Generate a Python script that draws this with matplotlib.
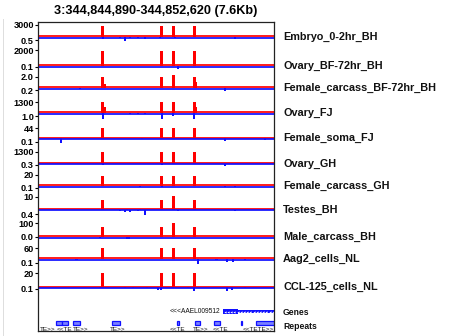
import matplotlib
matplotlib.use("Agg")
import numpy as np
import matplotlib.pyplot as plt
import matplotlib.transforms as mtransforms
from matplotlib.patches import Rectangle

plt.rcParams['font.family'] = ['Liberation Sans', 'DejaVu Sans']

# ---------------- data ----------------
region_start = 344844890
region_end = 344852620
title = "3:344,844,890-344,852,620 (7.6Kb)"

track_names = ["Embryo_0-2hr_BH", "Ovary_BF-72hr_BH", "Female_carcass_BF-72hr_BH",
               "Ovary_FJ", "Female_soma_FJ", "Ovary_GH", "Female_carcass_GH",
               "Testes_BH", "Male_carcass_BH", "Aag2_cells_NL", "CCL-125_cells_NL"]
top_labels = ["3000", "2000", "2.0", "1300", "44", "1300", "20", "10", "100", "60", "20"]
bottom_labels = ["0.5", "0.1", "0.2", "1.0", "0.1", "0.3", "0.1", "0.4", "0.0", "0.1", "0.1"]
top_values = [3000, 2000, 2.0, 1300, 44, 1300, 20, 10, 100, 60, 20]

peak_pos = [344847009, 344848941, 344849321, 344850009]
peak_vals = [
    [2750, 2750, 2750, 2750],
    [1920, 1920, 1920, 1920],
    [2.0, 1.95, 2.35, 2.0],
    [1300, 1300, 1300, 1300],
    [46, 46, 46, 46],
    [1300, 1300, 1330, 1300],
    [18, 18, 18, 18],
    [7.7, 7.7, 10.8, 7.7],
    [70, 70, 104, 70],
    [60, 60, 60, 60],
    [20, 20, 20.5, 20],
]
shoulder_pos = [[], [], [344847080, 344850080], [344847080, 344850080], [], [], [],
                [344847805, 344848230], [], [], []]
shoulder_vals = [[], [], [0.7, 1.1], [700, 700], [], [], [], [0.4, 0.4], [], [], []]

dip_pos = [
    [344847019, 344847576, 344847739, 344847903, 344848165, 344848394, 344848886, 344849377, 344851342],
    [344849475],
    [344851014, 344846266],
    [344847019, 344848951, 344849311, 344849999, 344847903, 344848165, 344848394],
    [344845643, 344848296, 344851014, 344852324],
    [344847019, 344848951, 344847576, 344848001, 344848394, 344851014, 344851244],
    [344848230, 344851014, 344851342, 344848951],
    [344847576, 344847739, 344847903, 344848165, 344848394, 344849475, 344851342],
    [344846920, 344847805, 344847870],
    [344846157, 344850130, 344850742, 344851080, 344851276, 344851669],
    [344846920, 344847739, 344848001, 344848460, 344848820, 344848918, 344849802,
     344849999, 344851080, 344851244, 344851669],
]
dip_vals = [
    [-375, -250, -1000, -250, -250, -375, -250, -250, -375],
    [-375],
    [-0.63, -0.15],
    [-650, -650, -355, -650, -118, -118, -118],
    [-19, -4, -12.6, -8.4],
    [-170, -226, -113, -113, -113, -280, -113],
    [-1.8, -2.7, -2.7, -1.8],
    [-0.77, -1.5, -1.5, -1.15, -3.85, -0.77, -1.15],
    [-7.4, -15, -15],
    [-5.6, -31, -8.4, -17, -17, -5.6],
    [-1.43, -0.7, -0.7, -1.43, -4.3, -4.3, -1.43, -5.0, -5.0, -4.3, -1.43],
]

gene_name = "<<<AAEL009512"
gene_label_end = 344850850
gene_thick_start = 344850949
gene_thick_end = 344851440
gene_thin_end = 344852700

repeat_starts = [344845480, 344845676, 344846036, 344847313, 344849442, 344850032,
                 344850654, 344851538, 344852030]
repeat_ends = [344845676, 344845873, 344846266, 344847576, 344849492, 344850195,
               344850850, 344851571, 344852700]
repeat_labels = ["TE>>", "<<TE", "TE>>", "TE>>", "<<TE", "TE>>", "<<TE", "<<TETE>>"]
repeat_label_pos = [344844955, 344845512, 344846036, 344847248, 344849213, 344849966,
                    344850621, 344851604]

# ---------------- layout (pixels) ----------------
W, H = 449, 336
X0, X1 = 38, 274
FRAME_TOP, FRAME_BOT = 22, 331
track_top_px = [25, 50, 77, 102, 128, 152, 175, 197, 223.3, 248.3, 273.3]
track_base_px = [37, 66, 88, 113, 138.3, 163.5, 186, 209.7, 236.8, 258.8, 287.3]
track_btick_px = [40, 66.5, 90, 116, 141.7, 164.5, 187.5, 214, 237, 263, 288.5]

RED = "#ff0000"
BLUE = "#1010ff"
bpw = (region_end - region_start) / (X1 - X0)  # bp per pixel

fig = plt.figure(figsize=(W / 100, H / 100), dpi=100)


def add_ax(y_top, y_bot):
    return fig.add_axes([X0 / W, 1 - y_bot / H, (X1 - X0) / W, (y_bot - y_top) / H])


label_font = dict(fontsize=7.8, fontweight='bold', color='#111111')
tick_font = dict(fontsize=6.6, fontweight='bold')

up = mtransforms.ScaledTranslation(0, 0.8 / 100, fig.dpi_scale_trans)
down = mtransforms.ScaledTranslation(0, -0.8 / 100, fig.dpi_scale_trans)

for i, name in enumerate(track_names):
    top, base, bt = track_top_px[i], track_base_px[i], track_btick_px[i]
    bot = base + 7
    ax = add_ax(top, bot)
    scale = top_values[i] / (base - top)
    ax.set_xlim(region_start, region_end)
    ax.set_ylim(-(bot - base) * scale, top_values[i])
    ax.patch.set_alpha(0)
    for s in ax.spines.values():
        s.set_visible(False)
    ax.set_xticks([])
    ax.bar(peak_pos, peak_vals[i], width=2.6 * bpw, color=RED, linewidth=0, zorder=3, clip_on=False)
    if shoulder_pos[i]:
        ax.bar(shoulder_pos[i], shoulder_vals[i], width=2.0 * bpw, color=RED, linewidth=0, zorder=3, clip_on=False)
    ax.bar(dip_pos[i], dip_vals[i], width=2.8 * bpw, color=BLUE, linewidth=0, zorder=3, clip_on=False)
    ax.plot([0, 1], [0, 0], color=RED, lw=1.25, zorder=4, solid_capstyle='butt',
            transform=ax.get_yaxis_transform() + up)
    ax.plot([0, 1], [0, 0], color=BLUE, lw=1.25, zorder=4, solid_capstyle='butt',
            transform=ax.get_yaxis_transform() + down)
    bt_val = -(bt - base) * scale
    ax.set_yticks([bt_val, top_values[i]])
    ax.set_yticklabels([bottom_labels[i], top_labels[i]], **tick_font)
    ax.tick_params(axis='y', length=2.4, width=0.8, pad=0.6, colors='black')
    trans = mtransforms.blended_transform_factory(ax.transAxes, ax.transData)
    ax.text((283 - X0) / (X1 - X0), 0, name, transform=trans, ha='left', va='center', **label_font)

# Genes track
gax = add_ax(305, 318)
gax.set_xlim(region_start, region_end)
gax.set_ylim(0, 1)
gax.axis('off')
gax.add_patch(Rectangle((gene_thick_start, 0.29), gene_thick_end - gene_thick_start, 0.42,
                        facecolor=BLUE, edgecolor='none'))
gax.add_patch(Rectangle((gene_thick_end, 0.38), gene_thin_end - gene_thick_end, 0.24,
                        facecolor=BLUE, edgecolor='none'))
arrow_x = np.arange(gene_thick_start + 60, gene_thin_end, 3.2 * bpw)
gax.scatter(arrow_x, np.full(len(arrow_x), 0.5), marker='<', s=2.5, color='white',
            linewidths=0, zorder=5)
gax.text(gene_label_end, 0.5, gene_name, ha='right', va='center', fontsize=4.8, color='#111111')
gax.text((283 - X0) / (X1 - X0), 0.46, "Genes", transform=gax.transAxes, ha='left',
         va='center', fontsize=6.2, fontweight='bold', color='#111111')

# Repeats track
rax = add_ax(318, 331)
rax.set_xlim(region_start, region_end)
rax.set_ylim(0, 1)
rax.axis('off')
for s, e in zip(repeat_starts, repeat_ends):
    rax.add_patch(Rectangle((s, 0.5), e - s, 0.27, facecolor='#7a80ff', edgecolor=BLUE, lw=0.9))
for lab, p in zip(repeat_labels, repeat_label_pos):
    rax.text(p, 0.14, lab, ha='left', va='center', fontsize=4.6, color='#111111', clip_on=True)
rax.text((283 - X0) / (X1 - X0), 0.31, "Repeats", transform=rax.transAxes, ha='left',
         va='center', fontsize=6.2, fontweight='bold', color='#111111')

# Frame
fax = add_ax(FRAME_TOP, FRAME_BOT)
fax.set_xlim(region_start, region_end)
fax.patch.set_alpha(0)
fax.set_xticks([])
fax.set_yticks([])
for s in fax.spines.values():
    s.set_linewidth(0.9)
    s.set_color('#222222')

fig.text((X0 + X1) / 2 / W, 1 - 11 / H, title, ha='center', va='center',
         fontsize=9.1, fontweight='bold')
fig.add_artist(plt.Line2D([2.5 / W, 2.5 / W], [0, 1 - 19 / H], color='#dddddd', lw=0.7))

fig.savefig("out.png", dpi=100)
